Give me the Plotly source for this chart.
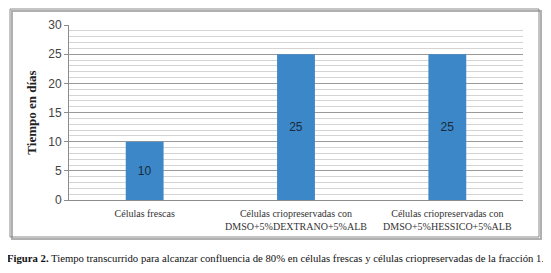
import plotly.graph_objects as go

categories = ["Células frescas",
              "Células criopreservadas con<br>DMSO+5%DEXTRANO+5%ALB",
              "Células criopreservadas con<br>DMSO+5%HESSICO+5%ALB"]
values = [10, 25, 25]
y_ticks = [0, 5, 10, 15, 20, 25, 30]
y_title = "Tiempo en días"
caption_bold = "Figura 2."
caption_rest = " Tiempo transcurrido para alcanzar confluencia de 80% en células frescas y células criopreservadas de la fracción 1."

# page body has an 8px default margin; compensate
OFF = 8
W, H = 551 - OFF, 273 - OFF
L, T = 69 - OFF, 25 - OFF
pw, ph = 454, 175
R, B = W - L - pw, H - T - ph

def px(x):
    return (x - OFF - L) / pw

def py(y):
    return (T + ph - (y - OFF)) / ph

fig = go.Figure()
fig.add_trace(go.Bar(
    x=categories, y=values,
    marker=dict(color="#3B87C7", line=dict(width=0)),
    text=[str(v) for v in values],
    textposition="inside", insidetextanchor="middle",
    textfont=dict(family="Liberation Sans, Arial", size=12, color="#1a2a3a"),
    width=0.25,
))

fig.update_layout(
    width=W, height=H,
    margin=dict(l=L, r=R, t=T, b=B, autoexpand=False),
    paper_bgcolor="white", plot_bgcolor="white",
    showlegend=False,
    xaxis=dict(
        automargin=False,
        showgrid=False, showline=True, linecolor="#8c8c8c", linewidth=1,
        ticks="", ticklen=0, ticklabelstandoff=4,
        tickfont=dict(family="Liberation Serif, Times New Roman", size=10, color="#333333"),
        tickangle=0,
    ),
    yaxis=dict(
        automargin=False,
        range=[0, 30], tickvals=y_ticks,
        showgrid=True, gridcolor="#9a9a9a", gridwidth=1,
        minor=dict(dtick=1, showgrid=True, gridcolor="#d4d4d4", gridwidth=1, ticks=""),
        showline=True, linecolor="#8c8c8c", linewidth=1,
        ticks="outside", ticklen=4, tickcolor="#8c8c8c",
        tickfont=dict(family="Liberation Sans, Arial", size=12, color="#444444"),
        zeroline=False,
        title=dict(text="<b>" + y_title + "</b>", standoff=8,
                   font=dict(family="Liberation Serif, Times New Roman", size=13, color="#222222")),
    ),
)

# chart frame with shadow
fig.add_shape(type="rect", xref="paper", yref="paper",
              x0=px(12), x1=px(541), y0=py(239), y1=py(11),
              line=dict(color="#b0b0b0", width=2), fillcolor="rgba(0,0,0,0)", layer="below")
fig.add_shape(type="rect", xref="paper", yref="paper",
              x0=px(10), x1=px(539), y0=py(237), y1=py(9),
              line=dict(color="#8a8a8a", width=1), fillcolor="rgba(0,0,0,0)", layer="below")

fig.add_annotation(
    xref="paper", yref="paper", x=px(5), y=py(258), xanchor="left", yanchor="middle",
    text="<b>" + caption_bold + "</b>" + caption_rest, showarrow=False,
    font=dict(family="Liberation Serif, Times New Roman", size=10.7, color="#111111"),
)

fig.write_html("out.html")
